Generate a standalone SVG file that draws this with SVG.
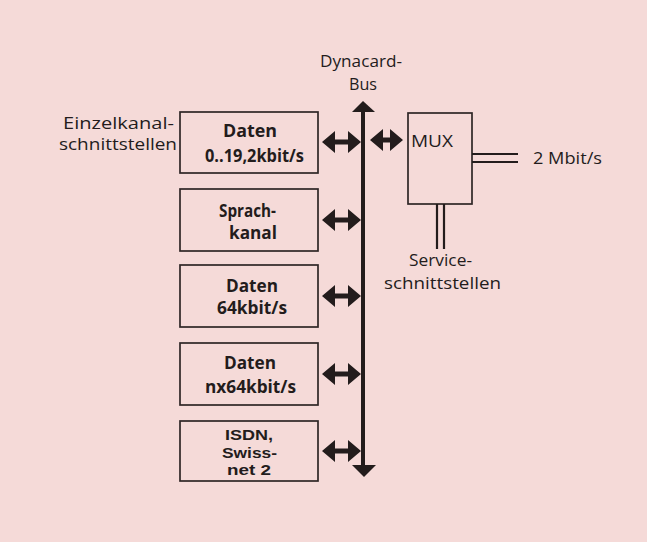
<svg xmlns="http://www.w3.org/2000/svg" width="647" height="542" viewBox="0 0 647 542">
<style>
.bg{fill:#f5dad8}
.box{fill:none;stroke:#2e2626;stroke-width:1.7}
.t{font-family:"Open Sans","Liberation Sans",sans-serif;font-size:15.5px;fill:#231c1c}
.b{font-family:"Open Sans","Liberation Sans",sans-serif;font-size:17px;font-weight:bold;fill:#231c1c;text-anchor:middle}
.bs{font-family:"Liberation Sans","Open Sans",sans-serif;font-size:15.5px;font-weight:bold;fill:#231c1c;text-anchor:middle}
.ar{fill:#231c1c}
.dl{stroke:#231c1c;stroke-width:2.2;fill:none}
</style>
<defs>
<path id="dbl" d="M0,0 L13,-11 L13,-2.6 L26,-2.6 L26,-11 L39,0 L26,11 L26,2.6 L13,2.6 L13,11 Z"/>
</defs>
<rect class="bg" x="0" y="0" width="647" height="542"/>

<g id="bus-label">
<text class="t" x="361" y="67" text-anchor="middle" textLength="82" lengthAdjust="spacingAndGlyphs">Dynacard-</text>
<text class="t" x="363" y="90" text-anchor="middle" textLength="28" lengthAdjust="spacingAndGlyphs">Bus</text>
</g>

<g id="einzel-label">
<text class="t" x="63" y="129" textLength="111" lengthAdjust="spacingAndGlyphs">Einzelkanal-</text>
<text class="t" x="59" y="150" textLength="118" lengthAdjust="spacingAndGlyphs">schnittstellen</text>
</g>

<g id="box1">
<rect class="box" x="180" y="112" width="138" height="61"/>
<text class="b" x="250" y="137" textLength="54" lengthAdjust="spacingAndGlyphs">Daten</text>
<text class="b" x="254.5" y="162" textLength="99" lengthAdjust="spacingAndGlyphs">0..19,2kbit/s</text>
</g>
<g id="box2">
<rect class="box" x="180" y="189" width="138" height="62"/>
<text class="b" x="247.5" y="217" textLength="57" lengthAdjust="spacingAndGlyphs">Sprach-</text>
<text class="b" x="253" y="239" textLength="48" lengthAdjust="spacingAndGlyphs">kanal</text>
</g>
<g id="box3">
<rect class="box" x="180" y="265" width="138" height="62"/>
<text class="b" x="252" y="292" textLength="52" lengthAdjust="spacingAndGlyphs">Daten</text>
<text class="b" x="252" y="314" textLength="70" lengthAdjust="spacingAndGlyphs">64kbit/s</text>
</g>
<g id="box4">
<rect class="box" x="180" y="343" width="138" height="62"/>
<text class="b" x="250" y="369" textLength="52" lengthAdjust="spacingAndGlyphs">Daten</text>
<text class="b" x="250.5" y="393" textLength="91" lengthAdjust="spacingAndGlyphs">nx64kbit/s</text>
</g>
<g id="box5">
<rect class="box" x="180" y="421" width="138" height="60"/>
<text class="bs" x="249" y="440" textLength="48" lengthAdjust="spacingAndGlyphs">ISDN,</text>
<text class="bs" x="249.5" y="457.5" textLength="55" lengthAdjust="spacingAndGlyphs">Swiss-</text>
<text class="bs" x="249" y="475" textLength="44" lengthAdjust="spacingAndGlyphs">net 2</text>
</g>

<g id="mux">
<rect class="box" x="408" y="113" width="64" height="91"/>
<text class="t" x="411" y="147" font-size="17" textLength="42" lengthAdjust="spacingAndGlyphs">MUX</text>
</g>

<g id="out-label">
<text class="t" x="533" y="164" textLength="69" lengthAdjust="spacingAndGlyphs">2 Mbit/s</text>
</g>
<g id="service-label">
<text class="t" x="409" y="266" textLength="63" lengthAdjust="spacingAndGlyphs">Service-</text>
<text class="t" x="384" y="289" textLength="117" lengthAdjust="spacingAndGlyphs">schnittstellen</text>
</g>

<g id="connectors">
<g id="bus">
<line x1="363" y1="110" x2="363" y2="467" stroke="#231c1c" stroke-width="4"/>
<polygon class="ar" points="352,112 363,101 375,112"/>
<polygon class="ar" points="352,465 364,477 376,465"/>
</g>
<use href="#dbl" class="ar" x="322" y="142"/>
<use href="#dbl" class="ar" x="322" y="220"/>
<use href="#dbl" class="ar" x="322" y="296"/>
<use href="#dbl" class="ar" x="322" y="374"/>
<use href="#dbl" class="ar" x="322" y="451"/>
<path class="ar" d="M370,140 L383,129 L383,137.4 L390,137.4 L390,129 L403,140 L390,151 L390,142.6 L383,142.6 L383,151 Z"/>
<line class="dl" x1="472" y1="154" x2="518" y2="154"/>
<line class="dl" x1="472" y1="162" x2="518" y2="162"/>
<line class="dl" x1="437" y1="204" x2="437" y2="249"/>
<line class="dl" x1="444" y1="204" x2="444" y2="249"/>
</g>
</svg>
